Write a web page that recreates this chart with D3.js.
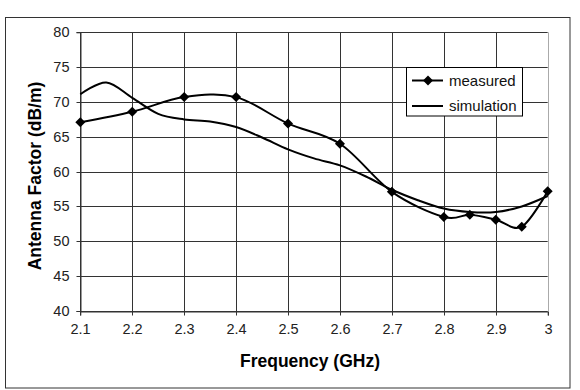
<!DOCTYPE html>
<html><head><meta charset="utf-8">
<script src="https://cdn.jsdelivr.net/npm/d3@7"></script>
<style>body{margin:0;background:#fff}svg{display:block;font-family:"Liberation Sans",Arial,sans-serif}</style>
</head><body>
<svg id="c" width="580" height="390"></svg>
<script>
const measuredFreq = [2.1, 2.2, 2.3, 2.4, 2.5, 2.6, 2.7, 2.8, 2.85, 2.9, 2.95, 3.0];
const measuredAF   = [67.1, 68.6, 70.7, 70.7, 66.9, 64.0, 57.1, 53.5, 53.8, 53.1, 52.1, 57.2];
const simFreq = [2.1, 2.15, 2.2, 2.25, 2.3, 2.35, 2.4, 2.45, 2.5, 2.55, 2.6, 2.65, 2.7, 2.75, 2.8, 2.85, 2.9, 2.95, 3.0];
const simAF   = [71.1, 72.8, 70.6, 68.3, 67.5, 67.2, 66.4, 64.9, 63.2, 61.9, 60.9, 59.3, 57.4, 55.9, 54.7, 54.2, 54.2, 55.0, 56.5];
const xTicks = [2.1, 2.2, 2.3, 2.4, 2.5, 2.6, 2.7, 2.8, 2.9, 3.0];
const yTicks = [40, 45, 50, 55, 60, 65, 70, 75, 80];
const seriesNames = ["measured", "simulation"];

const svg = d3.select("#c");
const L = 80.3, R = 547.7, T = 32.3, B = 311;
const x = d3.scaleLinear().domain([2.1, 3.0]).range([L, R]);
const y = d3.scaleLinear().domain([40, 80]).range([B, T]);

// outer border
svg.append("rect").attr("x", 5.5).attr("y", 17.5).attr("width", 564.5).attr("height", 370.5)
  .attr("fill", "#fff").attr("stroke", "#333").attr("stroke-width", 1);

// grid
const g = svg.append("g");
g.selectAll("line.h").data(yTicks).join("line")
  .attr("x1", L).attr("x2", R).attr("y1", d => Math.round(y(d)) + 0.5).attr("y2", d => Math.round(y(d)) + 0.5)
  .attr("stroke", "#333").attr("stroke-width", 1);
g.selectAll("line.v").data(xTicks).join("line")
  .attr("y1", T).attr("y2", B).attr("x1", d => Math.round(x(d)) + 0.5).attr("x2", d => Math.round(x(d)) + 0.5)
  .attr("stroke", d => d === 3.0 ? "#aaa" : "#333").attr("stroke-width", 1);

// axes
const yAxis = d3.axisLeft(y).tickValues(yTicks).tickSize(4).tickPadding(7).tickFormat(d3.format("d"));
const xAxis = d3.axisBottom(x).tickValues(xTicks).tickSize(4).tickPadding(8).tickFormat(d => d === 3 ? "3" : d3.format(".1f")(d));
const ya = svg.append("g").attr("transform", `translate(${Math.round(L)+0.5},0)`).call(yAxis);
const xa = svg.append("g").attr("transform", `translate(0,${Math.round(B)+0.5})`).call(xAxis);
[ya, xa].forEach(a => {
  a.select(".domain").attr("stroke", "#333");
  a.selectAll(".tick line").attr("stroke", "#333");
  a.selectAll(".tick text").attr("font-size", 14.5).attr("fill", "#222").attr("font-family", "Liberation Sans, Arial, sans-serif");
});
ya.selectAll(".tick").attr("transform", d => `translate(0,${Math.round(y(d))+0.5})`);
xa.selectAll(".tick").attr("transform", d => `translate(${Math.round(x(d))+0.5},0)`);

// lines
const curve = d3.curveCatmullRom.alpha(0);
const line = d3.line().x(d => x(d[0])).y(d => y(d[1])).curve(curve);
const simData = simFreq.map((f, i) => [f, simAF[i]]);
const measData = measuredFreq.map((f, i) => [f, measuredAF[i]]);
svg.append("path").datum(simData).attr("d", line).attr("fill", "none").attr("stroke", "#000").attr("stroke-width", 2);
svg.append("path").datum(measData).attr("d", line).attr("fill", "none").attr("stroke", "#000").attr("stroke-width", 2);
const diamond = d3.symbol().type(d3.symbolDiamond2).size(64);
svg.selectAll("path.pt").data(measData).join("path").attr("class", "pt")
  .attr("d", diamond).attr("transform", d => `translate(${x(d[0])},${y(d[1])})`).attr("fill", "#000");

// legend
const lg = svg.append("g");
lg.append("rect").attr("x", 406.5).attr("y", 67.5).attr("width", 116).attr("height", 48.5)
  .attr("fill", "#fff").attr("stroke", "#000").attr("stroke-width", 1);
const ly = [80.5, 106];
seriesNames.forEach((n, i) => {
  lg.append("line").attr("x1", 412).attr("x2", 443).attr("y1", ly[i]).attr("y2", ly[i]).attr("stroke", "#000").attr("stroke-width", 2);
  if (i === 0) lg.append("path").attr("d", diamond).attr("transform", `translate(428,${ly[i]})`).attr("fill", "#000");
  lg.append("text").attr("x", 449).attr("y", ly[i]).attr("dy", "0.35em").attr("font-size", 15).attr("fill", "#111").text(n);
});

// titles
svg.append("text").attr("x", 310).attr("y", 367).attr("text-anchor", "middle")
  .attr("font-size", 17.5).attr("font-weight", "bold").attr("fill", "#000").text("Frequency (GHz)");
svg.append("text").attr("transform", "translate(41,176) rotate(-90)").attr("text-anchor", "middle")
  .attr("font-size", 17.5).attr("font-weight", "bold").attr("fill", "#000").text("Antenna Factor (dB/m)");
</script>
</body></html>
